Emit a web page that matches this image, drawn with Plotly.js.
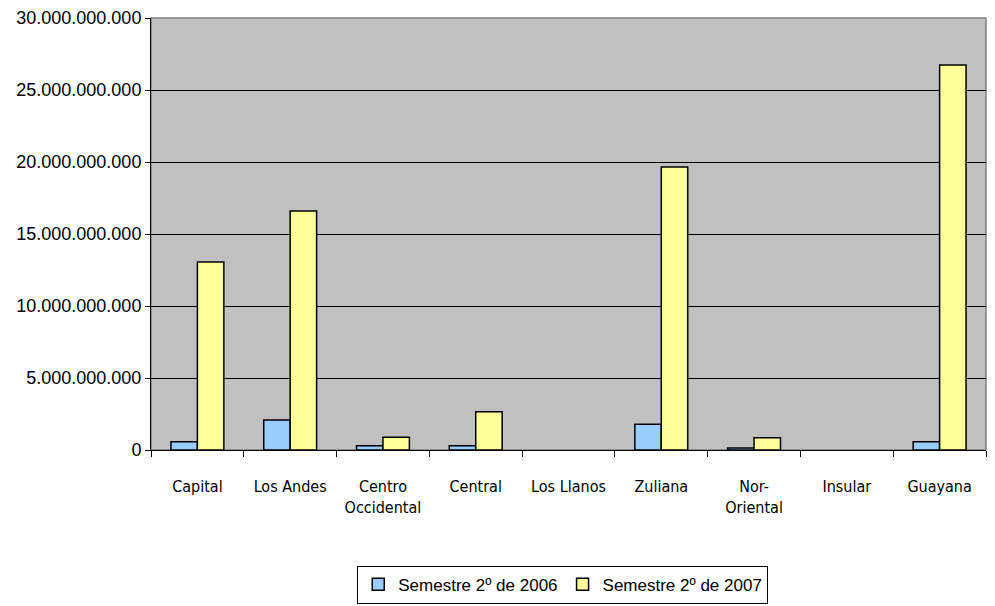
<!DOCTYPE html>
<html>
<head>
<meta charset="utf-8">
<script src="https://cdn.plot.ly/plotly-3.0.1.min.js"></script>
<style>html,body{margin:0;padding:0;background:#fff;}#chart{width:995px;height:606px;}</style>
</head>
<body>
<div id="chart"></div>
<script>
const categories = ["Capital", "Los Andes", "Centro<br>Occidental", "Central", "Los Llanos", "Zuliana", "Nor-<br>Oriental", "Insular", "Guayana"];
const seriesNames = ["Semestre 2º de 2006", "Semestre 2º de 2007"];
const values2006 = [0.58e9, 2.08e9, 0.30e9, 0.30e9, 0, 1.78e9, 0.14e9, 0, 0.58e9];
const values2007 = [13.05e9, 16.6e9, 0.88e9, 2.66e9, 0, 19.65e9, 0.85e9, 0, 26.74e9];
const yTicks = [0, 5e9, 10e9, 15e9, 20e9, 25e9, 30e9];

const outline = v => v.map(d => d > 0 ? 1.5 : 0);

const traces = [
  {type: "bar", name: seriesNames[0], x: categories, y: values2006,
   marker: {color: "#99CCFF", line: {color: "#000", width: outline(values2006)}}},
  {type: "bar", name: seriesNames[1], x: categories, y: values2007,
   marker: {color: "#FFFF99", line: {color: "#000", width: outline(values2007)}}}
];

const layout = {
  width: 995, height: 606,
  margin: {l: 151, r: 9, t: 18, b: 156, autoexpand: false},
  paper_bgcolor: "#fff",
  plot_bgcolor: "#C0C0C0",
  separators: ",.",
  barmode: "group",
  bargap: 0.43,
  bargroupgap: 0,
  showlegend: true,
  legend: {
    orientation: "h", x: 0.247, xanchor: "left", y: -0.268, yanchor: "top",
    bgcolor: "#fff", bordercolor: "#000", borderwidth: 1,
    font: {family: "Liberation Sans", size: 17, color: "#000"},
    itemwidth: 30, tracegroupgap: 0
  },
  xaxis: {
    type: "category",
    automargin: false,
    tickson: "boundaries",
    ticks: "outside", ticklen: 6, tickcolor: "#000",
    showline: true, linecolor: "#000", linewidth: 1,
    showgrid: false,
    tickfont: {family: "DejaVu Sans Condensed", size: 16, color: "#000"},
    ticklabelstandoff: 22
  },
  yaxis: {
    automargin: false,
    range: [0, 30e9],
    tickvals: yTicks,
    tickformat: ",d",
    ticks: "outside", ticklen: 5, tickcolor: "#000",
    showline: true, linecolor: "#000", linewidth: 1,
    showgrid: true, gridcolor: "#000", gridwidth: 1,
    zeroline: false,
    tickfont: {family: "Liberation Sans", size: 18, color: "#000"}
  },
  shapes: [
    {type: "rect", xref: "paper", yref: "paper", x0: 0, x1: 1, y0: 0, y1: 1,
     line: {color: "#808080", width: 1.5}, layer: "below"}
  ]
};

Plotly.newPlot("chart", traces, layout, {displayModeBar: false, staticPlot: true});
</script>
</body>
</html>
